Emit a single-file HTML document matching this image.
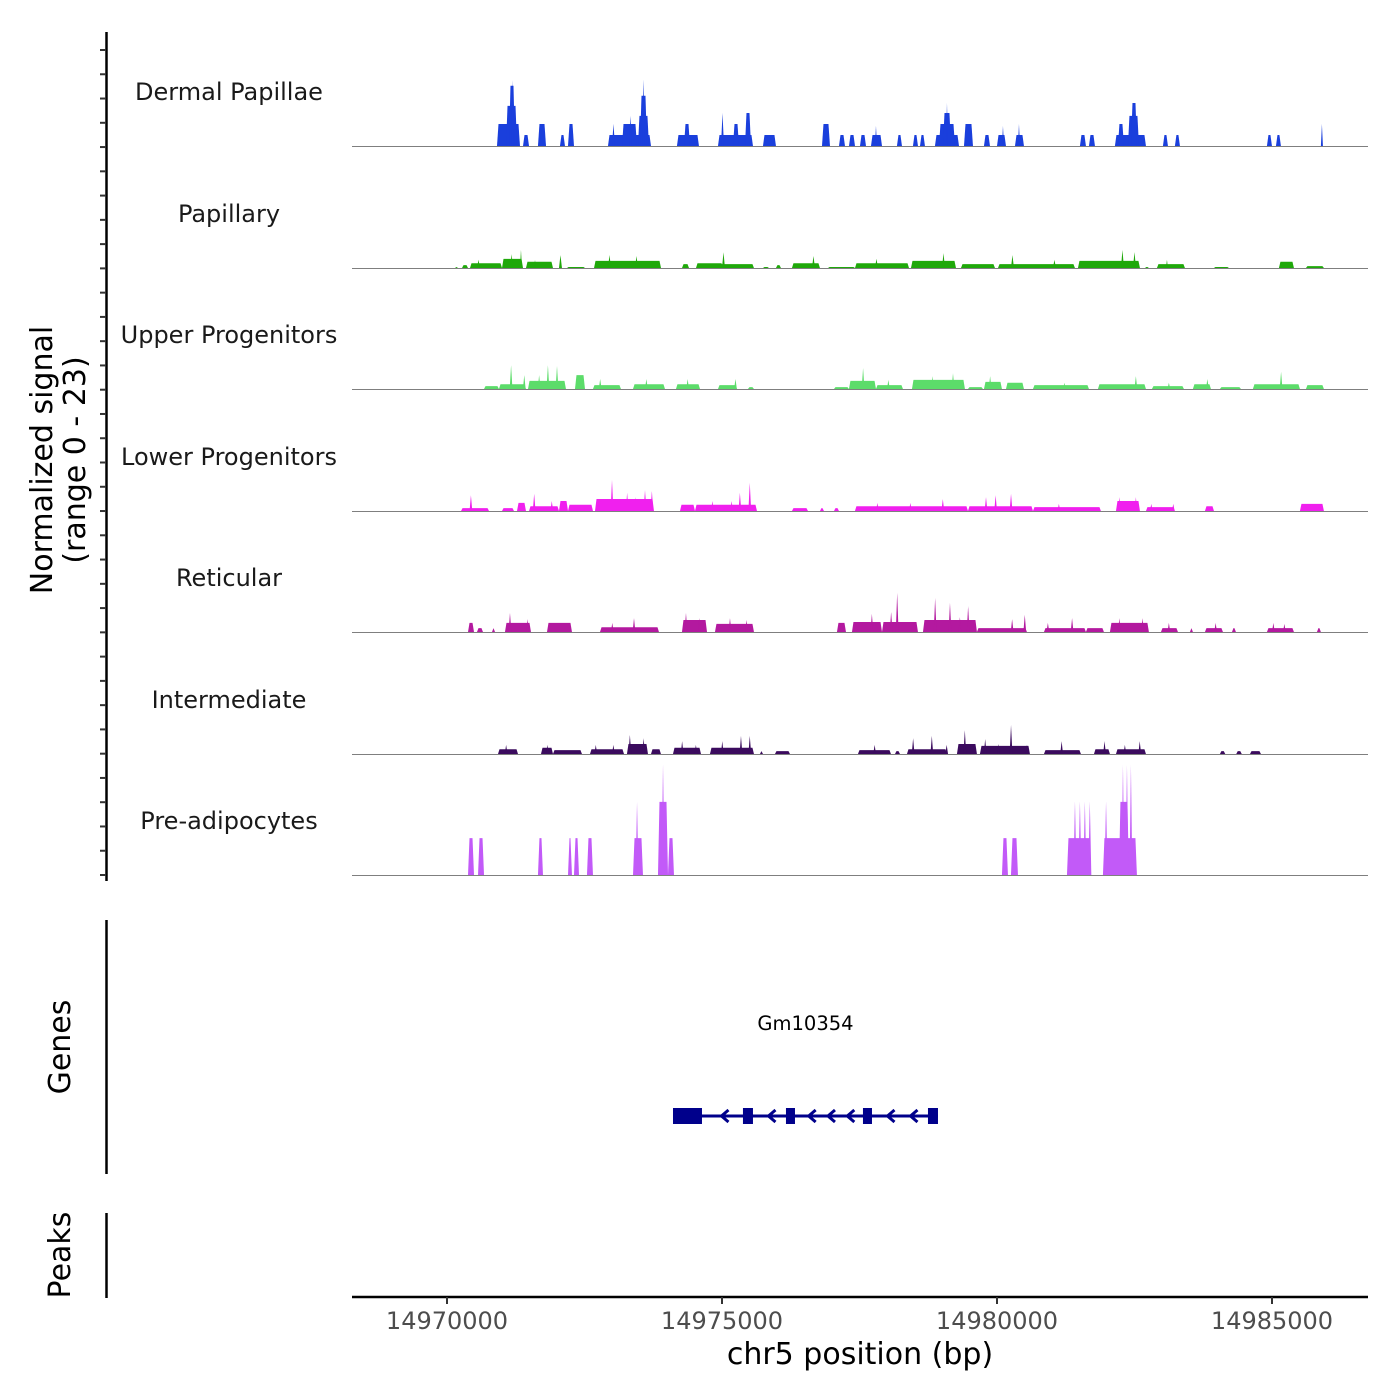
<!DOCTYPE html>
<html><head><meta charset="utf-8"><style>
html,body{margin:0;padding:0;background:#fff;}
svg{display:block;font-family:"DejaVu Sans","Liberation Sans",sans-serif;}
</style></head><body>
<svg id="chart" width="1400" height="1400" viewBox="0 0 1400 1400">
<rect width="1400" height="1400" fill="#fff"/>
<g id="tracks"></g>
<g id="axes"></g>
<g id="genes"></g>
</svg>
<script>
const REGION_START = 14970000;
const X_TICKS = [14970000, 14975000, 14980000, 14985000];
const TRACK_NAMES = ["Dermal Papillae","Papillary","Upper Progenitors","Lower Progenitors","Reticular","Intermediate","Pre-adipocytes"];
const TRACK_COLORS = ["#1a3fdc","#1fa80a","#5cdc6a","#f020ee","#b3199f","#3b0b5e","#c25af8"];
// segments: [startOffsetBp, endOffsetBp, normalized signal]
const dermalPapillae = [[909,1327,4.6],[1073,1273,8.4],[1127,1236,12.6],[1164,1218,13.8],[1382,1491,2.3],[1654,1800,4.6],[2054,2145,2.3],[2200,2309,4.6],[2927,3709,2.3],[3000,3054,4.6],[3182,3454,4.6],[3309,3363,6.3],[3472,3672,6.3],[3509,3636,10.5],[3545,3600,13.8],[4181,4581,2.3],[4309,4418,4.6],[4927,5563,2.3],[4982,5036,6.9],[5200,5309,4.6],[5418,5527,6.9],[5745,5981,2.3],[6818,6963,4.6],[7127,7236,2.3],[7309,7418,2.3],[7509,7618,2.3],[7709,7909,2.3],[7781,7818,4.2],[8181,8272,2.3],[8472,8563,2.3],[8600,8690,2.3],[8872,9309,2.3],[8945,9236,4.6],[9018,9163,6.9],[9072,9109,9.0],[9400,9563,4.6],[9763,9872,2.3],[10000,10163,2.3],[10090,10127,4.2],[10327,10490,2.3],[10381,10418,4.6],[11508,11617,2.3],[11672,11781,2.3],[12144,12708,2.3],[12199,12308,4.6],[12381,12581,6.3],[12436,12545,9.0],[13017,13108,2.3],[13235,13326,2.3],[14908,14999,2.3],[15072,15162,2.3],[15889,15926,4.6]];
const papillary = [[145,200,0.2],[273,382,0.6],[418,1000,1.0],[545,600,1.7],[1000,1382,1.9],[1150,1200,2.9],[1327,1363,3.8],[1436,1927,1.3],[1582,1618,1.7],[2036,2090,2.7],[2182,2509,0.2],[2673,3891,1.5],[2927,2982,2.7],[3418,3473,2.5],[4273,4400,0.8],[4527,5018,1.0],[5000,5054,3.3],[4945,5581,0.8],[5745,5854,0.2],[5981,6072,0.6],[6272,6781,1.0],[6636,6690,2.5],[6927,7418,0.2],[7418,8400,1.0],[7781,7836,1.9],[8436,9254,1.5],[9000,9054,3.1],[9345,9963,0.8],[10018,11417,0.8],[10254,10308,2.7],[11017,11072,1.7],[11472,12599,1.5],[12254,12308,3.8],[12472,12527,3.3],[12690,12762,0.2],[12908,13417,0.8],[13072,13108,1.7],[13944,14217,0.2],[15126,15399,1.3],[15617,15944,0.4]];
const upperProgenitors = [[673,945,0.6],[945,1436,1.0],[1140,1190,5.0],[1380,1430,2.9],[1473,2163,1.7],[1810,1860,5.0],[1975,2025,4.8],[1650,1700,2.9],[2327,2509,2.9],[2654,3163,0.8],[2760,2810,2.1],[3382,3963,1.0],[3600,3650,2.1],[4163,4600,1.0],[4350,4400,2.1],[4927,5272,0.8],[5220,5270,2.1],[5472,5581,0.4],[7036,7308,0.4],[7308,7800,1.7],[7540,7590,4.4],[7800,8290,0.8],[8000,8050,1.9],[8454,9417,1.9],[9175,9225,3.3],[8800,8850,2.7],[9472,9745,0.4],[9763,10090,1.5],[9850,9900,2.7],[10163,10490,1.3],[10654,11672,0.8],[11200,11250,1.3],[11835,12708,1.0],[12500,12550,2.7],[12817,13399,0.6],[13100,13150,1.3],[13562,13890,1.0],[13800,13850,2.1],[14053,14435,0.4],[14653,15508,1.0],[15140,15190,3.6],[15617,15944,0.8]];
const lowerProgenitors = [[255,764,0.6],[410,460,3.3],[1000,1218,0.6],[1273,1436,1.7],[1491,2036,1.0],[1560,1610,3.6],[1880,1930,2.1],[2036,2200,2.1],[2200,2654,1.3],[2691,3763,2.5],[2975,3025,6.5],[3250,3300,3.8],[3400,3450,2.9],[3575,3625,4.4],[3700,3750,4.2],[4236,4509,1.3],[4509,5636,1.3],[4800,4850,2.1],[5150,5200,2.1],[5300,5350,3.8],[5480,5530,5.9],[6272,6563,0.6],[6781,6854,0.6],[7036,7127,0.6],[7417,9472,1.0],[7800,7850,1.7],[8400,8450,1.7],[8990,9040,2.5],[9472,10654,1.0],[9775,9825,2.9],[9950,10000,3.3],[10230,10280,3.6],[10654,11890,0.8],[11100,11150,1.5],[12163,12599,2.1],[12200,12250,2.9],[12500,12550,2.9],[12708,13235,0.8],[12780,12830,1.5],[13180,13230,1.5],[13781,13945,1.0],[15508,15944,1.5]];
const reticular = [[382,491,1.9],[545,654,0.8],[818,873,0.8],[1054,1527,1.9],[1120,1170,4.0],[1440,1490,2.7],[1818,2272,1.9],[2782,3854,1.0],[2980,3030,1.9],[3375,3425,2.9],[4272,4727,2.5],[4320,4370,4.0],[4560,4610,2.9],[4872,5581,1.7],[5120,5170,2.9],[5420,5470,2.5],[7090,7254,1.9],[7363,7909,2.1],[7700,7750,3.8],[7909,8563,2.1],[8160,8210,8.2],[8050,8100,4.2],[8654,9635,2.5],[8850,8900,7.1],[9120,9170,6.1],[9450,9500,5.4],[9300,9350,3.1],[9635,10544,0.8],[10250,10300,2.7],[10480,10530,3.6],[10854,11617,0.8],[10900,10950,1.9],[11340,11390,2.9],[11617,11944,0.8],[12053,12762,1.9],[12200,12250,2.9],[12620,12670,2.9],[12981,13290,0.8],[13100,13150,1.9],[13508,13562,0.8],[13781,14108,0.8],[13950,14000,1.9],[14272,14344,0.8],[14908,15399,0.8],[15000,15050,1.9],[15200,15250,1.7],[15817,15889,0.8]];
const intermediate = [[927,1291,1.0],[1050,1100,1.9],[1709,1927,1.3],[1800,1850,1.9],[1927,2454,0.8],[2600,3218,1.0],[2680,2730,1.9],[3000,3050,1.9],[3272,3654,2.1],[3300,3350,4.0],[3550,3600,3.3],[3709,3890,1.0],[4109,4618,1.3],[4250,4300,2.7],[4500,4550,1.9],[4781,5581,1.3],[4980,5030,2.7],[5320,5370,3.8],[5480,5530,3.8],[5690,5745,0.6],[5963,6236,0.6],[7472,8072,0.8],[7750,7800,1.9],[8145,8236,0.6],[8363,9090,1.0],[8450,8500,3.3],[8790,8840,3.8],[9060,9110,1.9],[9272,9635,2.1],[9390,9440,5.0],[9690,10599,1.7],[9760,9810,3.1],[10000,10050,2.1],[10230,10280,6.1],[10520,10570,1.9],[10854,11526,0.8],[11150,11200,2.7],[11763,12053,1.0],[11930,11980,2.7],[12163,12708,1.0],[12300,12350,1.9],[12570,12620,2.7],[14053,14150,0.6],[14350,14450,0.6],[14600,14799,0.6]];
const preAdipocytes = [[382,491,7.7],[564,673,7.7],[1654,1745,7.7],[2200,2272,7.7],[2309,2400,7.7],[2545,2654,7.7],[3382,3563,7.7],[3430,3480,15.3],[3836,4018,15.3],[3900,3955,23],[4018,4127,7.7],[10090,10199,7.7],[10254,10381,7.7],[11272,11708,7.7],[11390,11445,15.3],[11480,11535,15.3],[11570,11625,15.3],[11660,11715,15.3],[11926,12544,7.7],[11955,12010,15.3],[12217,12399,15.3],[12265,12315,23],[12338,12388,23],[12410,12460,23]];
const TRACK_DATA = [dermalPapillae, papillary, upperProgenitors, lowerProgenitors, reticular, intermediate, preAdipocytes];
const GENE_NAME = "Gm10354";
const GENE_RANGE = [4109, 8927];
const GENE_EXONS = [[4109,4636],[5381,5563],[6163,6327],[7563,7727],[8745,8927]];

const NS = "http://www.w3.org/2000/svg";
const PLOT_L = 352, PLOT_R = 1368;
const PX_PER_BP = 0.055;
const X_REF = 447;
function xScale(off){ return X_REF + off * PX_PER_BP; }
function xScaleAbs(bp){ return X_REF + (bp - REGION_START) * PX_PER_BP; }
const BASELINES = [146, 268, 389, 511, 632, 754, 875];
const PX_PER_UNIT = 110/23;
function yScale(v, base){ return base - v * PX_PER_UNIT; }
function mk(tag, attrs, parent){
  const e = document.createElementNS(NS, tag);
  for (const k in attrs) e.setAttribute(k, attrs[k]);
  parent.appendChild(e); return e;
}
const tracks = document.getElementById('tracks');
const axes = document.getElementById('axes');
const genes = document.getElementById('genes');

TRACK_NAMES.forEach((name, i) => {
  const base = BASELINES[i];
  const g = mk('g', {}, tracks);
  
  
  const lbl = mk('text', {x: 229, y: base - 46, 'text-anchor': 'middle', 'font-size': 24, fill: '#1a1a1a'}, g);
  lbl.textContent = name;
  
  
  TRACK_DATA[i].forEach(seg => {
    const x1 = xScale(seg[0]), x2 = xScale(seg[1]);
    const y = yScale(seg[2], base);
    const sl = Math.min(1.5, (x2 - x1) / 2);
    const p = mk('polygon', {points: `${x1},${base} ${x1+sl},${y} ${x2-sl},${y} ${x2},${base}`, fill: TRACK_COLORS[i]}, g);
    
    
  });
  const bl = mk('line', {x1: PLOT_L, x2: PLOT_R, y1: base + 0.5, y2: base + 0.5, stroke: '#7f7f7f', 'stroke-width': 1}, g);
  
  
});

const yax = mk('line', {x1: 106.5, x2: 106.5, y1: 32, y2: 881, stroke: '#000', 'stroke-width': 2.5}, axes);


for (let k = 0; k < 35; k++) {
  const ty = 50 + k * (825 / 34);
  const t = mk('line', {x1: 100, x2: 106, y1: ty, y2: ty, stroke: '#333', 'stroke-width': 2}, axes);
  
  
}
const yt = mk('text', {transform: 'translate(52,460) rotate(-90)', 'text-anchor': 'middle', 'font-size': 30, fill: '#000'}, axes);


const ts1 = mk('tspan', {x: 0, dy: 0}, yt); ts1.textContent = 'Normalized signal';
const ts2 = mk('tspan', {x: 0, dy: 33}, yt); ts2.textContent = '(range 0 - 23)';

const gax = mk('line', {x1: 106.5, x2: 106.5, y1: 920, y2: 1174, stroke: '#000', 'stroke-width': 2.5}, axes);


const gt = mk('text', {transform: 'translate(70,1047) rotate(-90)', 'text-anchor': 'middle', 'font-size': 30, fill: '#000'}, axes);
gt.textContent = 'Genes';


const pax = mk('line', {x1: 106.5, x2: 106.5, y1: 1213, y2: 1298, stroke: '#000', 'stroke-width': 2.5}, axes);


const pt = mk('text', {transform: 'translate(70,1255) rotate(-90)', 'text-anchor': 'middle', 'font-size': 30, fill: '#000'}, axes);
pt.textContent = 'Peaks';



const xax = mk('line', {x1: PLOT_L, x2: PLOT_R, y1: 1297, y2: 1297, stroke: '#000', 'stroke-width': 2.5}, axes);


X_TICKS.forEach(v => {
  const x = xScaleAbs(v);
  const t = mk('line', {x1: x, x2: x, y1: 1297, y2: 1304, stroke: '#333', 'stroke-width': 2}, axes);
  
  
  const l = mk('text', {x: x, y: 1329, 'text-anchor': 'middle', 'font-size': 24, fill: '#4d4d4d'}, axes);
  l.textContent = String(v);
  
  
});
const xt = mk('text', {x: 860, y: 1364, 'text-anchor': 'middle', 'font-size': 30, fill: '#000'}, axes);
xt.textContent = 'chr5 position (bp)';



const gy = 1116;
const gl = mk('text', {x: (xScale(GENE_RANGE[0]) + xScale(GENE_RANGE[1])) / 2, y: 1030, 'text-anchor': 'middle', 'font-size': 19.5, fill: '#000'}, genes);
gl.textContent = GENE_NAME;


const gline = mk('line', {x1: xScale(GENE_RANGE[0]), x2: xScale(GENE_RANGE[1]), y1: gy, y2: gy, stroke: '#00008b', 'stroke-width': 3}, genes);


for (let i = 0; i < GENE_EXONS.length - 1; i++) {
  const a = xScale(GENE_EXONS[i][1]) + 6, b = xScale(GENE_EXONS[i + 1][0]) - 4;
  const n = Math.max(1, Math.floor((b - a) / 18));
  const step = (b - a) / n;
  for (let k = 0; k < n; k++) {
    const ax = a + step * (k + 0.5);
    const ar = mk('polyline', {points: `${ax+5},${gy-6} ${ax-2},${gy} ${ax+5},${gy+6}`, fill: 'none', stroke: '#00008b', 'stroke-width': 3}, genes);
    
    
  }
}
GENE_EXONS.forEach(ex => {
  const x1 = xScale(ex[0]), x2 = xScale(ex[1]);
  const r = mk('rect', {x: x1, y: gy - 8, width: x2 - x1, height: 16, fill: '#00008b'}, genes);
  
  
});
</script>
</body></html>
